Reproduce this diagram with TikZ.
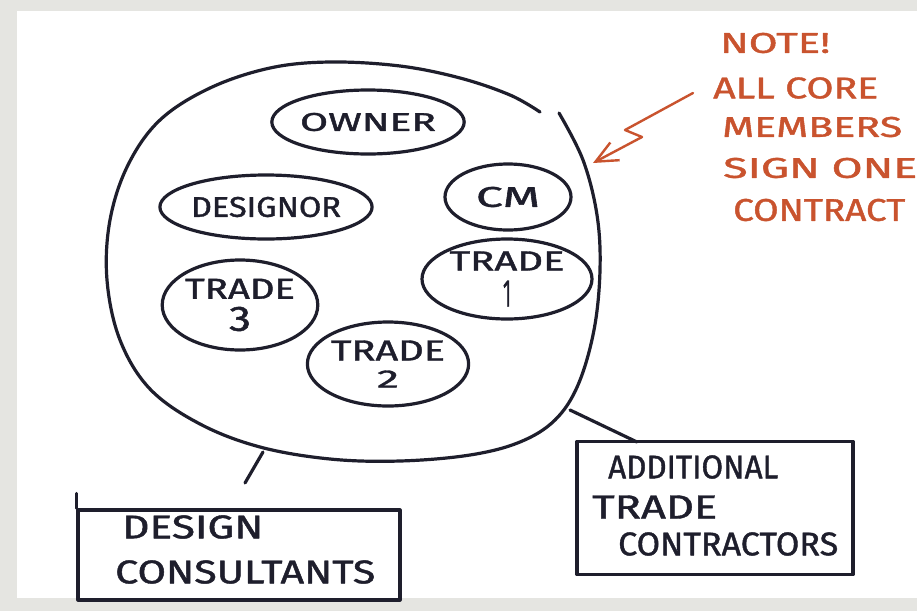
\documentclass[tikz,border=0pt]{standalone}
\usepackage{fontspec}
\setmainfont{Fira Sans}
\newfontfamily\handfont{Fira Sans}[FakeBold=1.2]
\usetikzlibrary{shapes.geometric,arrows.meta}
\definecolor{ink}{HTML}{1E1E2C}
\definecolor{redink}{HTML}{C9532E}
\definecolor{paperframe}{HTML}{E5E5E1}
% hand lettering: scale a word to a given width and cap height
\newcommand{\hw}[3]{\resizebox{#1pt}{#2pt}{\handfont #3}}
\begin{document}
\begin{tikzpicture}[x=1pt,y=-1pt,line cap=round,line join=round]
\tikzset{
  member/.style={draw=ink,line width=3.2pt,ellipse,inner sep=0pt,align=center,text=ink},
  stroke/.style={draw=ink,line width=3.2pt},
  boxnode/.style={draw=ink,line width=3.2pt,rectangle,inner sep=0pt},
  handtext/.style={text=ink,inner sep=0pt,anchor=west},
  notetext/.style={text=redink,inner sep=0pt,anchor=west},
}
% sheet on a grey ground
\fill[paperframe] (0,0) rectangle (917,611);
\fill[white] (17,11) rectangle (917,598);
\useasboundingbox (0,0) rectangle (917,611);

% the core group
\draw[stroke] plot[smooth,tension=0.6] coordinates {
  (559,113) (583,160) (597,215) (600,270) (594,330) (578,385) (555,420)
  (520,442) (470,455) (400,461) (330,459) (260,447) (200,424) (150,389)
  (120,340) (107,280) (110,220) (128,165) (160,120) (210,88) (270,68)
  (330,62) (400,66) (460,78) (510,95) (540,112)};

% core members
\node[member,minimum width=184pt,minimum height=64pt] (owner) at (368,122) {\hw{136}{18}{OWNER}};
\node[member,minimum width=206pt,minimum height=64pt] (designor) at (266,207) {\hw{150}{20}{DESIGNOR}};
\node[member,minimum width=126pt,minimum height=66pt] (cm) at (508,197) {\hw{64}{20}{CM}};
\node[member,minimum width=170pt,minimum height=80pt] (trade1) at (507,279) {\hw{115}{19}{TRADE}\\[9pt]\hw{8}{26}{1}};
\node[member,minimum width=144pt,minimum height=90pt] (trade3) at (240,305) {\hw{110}{20}{TRADE}\\[7pt]\hw{22}{24}{3}};
\node[member,minimum width=150pt,minimum height=84pt] (trade2) at (388,364) {\hw{114}{20}{TRADE}\\[9pt]\hw{22}{17}{2}};

% outside parties
\node[boxnode,minimum width=322pt,minimum height=90pt] (design) at (239,555) {};
\draw[stroke] (design.north west) -- ++(0,-15);
\node[handtext] (designA) at (122,527) {\hw{141}{23}{DESIGN}};
\node[handtext] (designB) at (115,572) {\hw{260}{23}{CONSULTANTS}};

\node[boxnode,minimum width=276pt,minimum height=133pt] (additional) at (715,508) {};
\node[handtext] (addA) at (608,467) {\hw{170}{23}{ADDITIONAL}};
\node[handtext] (addB) at (592,507) {\hw{125}{23}{TRADE}};
\node[handtext] (addC) at (618,544) {\hw{220}{23}{CONTRACTORS}};

% links from the core group
\coordinate (d1) at (263,452);
\coordinate (d2) at (245,483);
\draw[stroke] (d1) -- (d2);
\coordinate (a1) at (570,410);
\coordinate (a2) at (637,442);
\draw[stroke] (a1) -- (a2);

% note
\node[notetext] (n1) at (720,43) {\hw{110}{20}{NOTE!}};
\node[notetext] (n2) at (713,88) {\hw{165}{21}{ALL CORE}};
\node[notetext] (n3) at (722,127) {\hw{180}{20}{MEMBERS}};
\node[notetext] (n4) at (723,168) {\hw{194}{20}{SIGN ONE}};
\node[notetext] (n5) at (733,210) {\hw{172}{22}{CONTRACT}};
\coordinate (z0) at (693,93);
\coordinate (z1) at (625,130);
\coordinate (z2) at (642,137);
\coordinate (tip) at (593,163);
\draw[redink,line width=2.4pt,-{Straight Barb[length=22pt,width=20pt,line width=2.4pt]}]
  (z0) -- (z1) -- (z2) -- (tip);
\end{tikzpicture}
\end{document}
